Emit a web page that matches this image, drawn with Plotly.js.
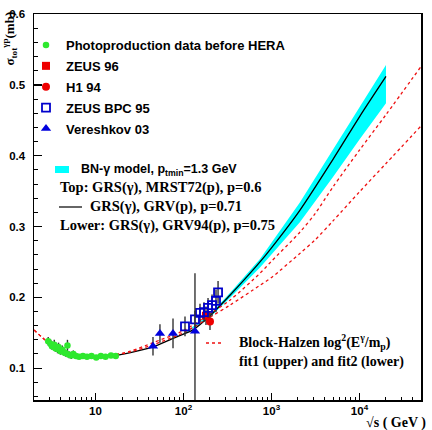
<!DOCTYPE html>
<html>
<head>
<meta charset="utf-8">
<script src="https://cdn.plot.ly/plotly-3.0.1.min.js"></script>
<style>html,body{margin:0;padding:0;background:#fff;}</style>
</head>
<body>
<div id="chart" style="width:432px;height:430px;"></div>
<script>
// Total photoproduction cross section sigma_tot(gamma p) in mb versus sqrt(s) in GeV

// Photoproduction data before HERA
const photoE     = [2.9, 3.1, 3.2, 3.4, 3.5, 3.7, 3.8, 4.0, 4.2, 4.4, 4.6, 4.8, 5.0, 5.3, 5.6, 6.0, 6.5, 7.2, 8.0, 9.0, 10.2, 11.5, 13, 15, 17];
const photoSigma = [0.138, 0.134, 0.131, 0.133, 0.128, 0.127, 0.130, 0.124, 0.126, 0.122, 0.121, 0.132, 0.119, 0.118, 0.120, 0.117, 0.116, 0.117, 0.116, 0.117, 0.115, 0.117, 0.116, 0.118, 0.117];
const photoErr   = [0.006, 0.006, 0.005, 0.007, 0.005, 0.006, 0.006, 0.005, 0.006, 0.005, 0.005, 0.008, 0.005, 0.005, 0.005, 0.004, 0.003, 0.003, 0.003, 0.003, 0.003, 0.003, 0.003, 0.003, 0.003];

// ZEUS 96 and H1 94
const zeus96E = [180], zeus96Sigma = [0.174], zeus96Err = [0.013];
const h194E   = [200], h194Sigma   = [0.166], h194Err   = [0.012];

// ZEUS BPC 95
const bpcE     = [104, 135, 154, 171, 190, 211, 234, 247];
const bpcSigma = [0.159, 0.169, 0.178, 0.179, 0.185, 0.189, 0.195, 0.207];
const bpcErr   = [0.014, 0.012, 0.013, 0.014, 0.014, 0.015, 0.016, 0.016];

// Vereshkov 03
const verE        = [45, 54, 76, 135];
const verSigma    = [0.131, 0.149, 0.149, 0.152];
const verErrUp    = [0.013, 0.013, 0.021, 0.082];
const verErrDown  = [0.013, 0.013, 0.021, 0.114];

// BN-gamma model: band (MRST72 top / GRV94 lower) and central GRV curve
const bandE     = [100, 200, 337, 740, 2100, 5000, 10000, 20000];
const bandTop   = [0.149, 0.176, 0.206, 0.254, 0.334, 0.409, 0.469, 0.528];
const bandLow   = [0.147, 0.172, 0.199, 0.242, 0.306, 0.370, 0.423, 0.474];
const grvE      = [5, 7, 10, 15, 25, 45, 70, 100, 128, 200, 337, 500, 740, 1000, 2100, 5000, 10000, 20000];
const grvSigma  = [0.120, 0.117, 0.116, 0.117, 0.122, 0.130, 0.140, 0.148, 0.154, 0.174, 0.203, 0.226, 0.250, 0.270, 0.323, 0.395, 0.455, 0.512];

// Block-Halzen log^2 fits
const bhE    = [2, 2.5, 3, 4, 5, 6, 8, 10, 15, 25, 45, 100, 200, 337, 740, 1000, 2100, 3120, 5000, 10000, 20000, 50000];
const bhFit1 = [0.154, 0.143, 0.135, 0.126, 0.121, 0.119, 0.117, 0.117, 0.118, 0.124, 0.136, 0.153, 0.177, 0.196, 0.234, 0.251, 0.292, 0.318, 0.356, 0.408, 0.458, 0.526];
const bhFit2 = [0.154, 0.143, 0.135, 0.126, 0.121, 0.119, 0.117, 0.117, 0.118, 0.123, 0.133, 0.150, 0.172, 0.189, 0.217, 0.228, 0.262, 0.281, 0.308, 0.349, 0.389, 0.442];

// Axis ticks
const xTickVals  = [10, 100, 1000, 10000];
const xTickText  = ['10', '10<sup>2</sup>', '10<sup>3</sup>', '10<sup>4</sup>'];
const yTickVals  = [0.1, 0.2, 0.3, 0.4, 0.5, 0.6];
const yTickText  = ['0.1', '0.2', '0.3', '0.4', '0.5', '0.6'];

// minor ticks on the log axis: 2..9 in every decade
const xMinorVals = [];
for (let d = 1; d <= 10000; d *= 10) for (let k = 2; k <= 9; k++) xMinorVals.push(k * d);

const SANS = 'Liberation Sans, Arial, sans-serif';
const SERIF = 'Liberation Serif, Times New Roman, serif';
const ERR = {color: '#333', thickness: 1.4, width: 0};

// pixel -> paper helpers for legend keys and labels
const M = {l: 34, r: 11, t: 14, b: 30};
const PW = 432 - M.l - M.r, PH = 430 - M.t - M.b;
const px = x => (x - M.l) / PW;
const py = y => 1 - (y - M.t) / PH;

const traces = [
  {x: bandE, y: bandLow, mode: 'lines', line: {width: 0, color: 'rgba(0,0,0,0)'}, showlegend: false, hoverinfo: 'skip'},
  {x: bandE, y: bandTop, mode: 'lines', fill: 'tonexty', fillcolor: '#00ffff',
   line: {width: 0, color: 'rgba(0,0,0,0)'}, showlegend: false, hoverinfo: 'skip'},
  {x: grvE, y: grvSigma, mode: 'lines', line: {color: '#000', width: 1.3, shape: 'spline', smoothing: 0.8}, showlegend: false},
  {x: bhE, y: bhFit1, mode: 'lines', line: {color: '#ee1111', width: 1.3, dash: 'dot', shape: 'spline', smoothing: 0.8}, showlegend: false},
  {x: bhE, y: bhFit2, mode: 'lines', line: {color: '#ee1111', width: 1.3, dash: 'dot', shape: 'spline', smoothing: 0.8}, showlegend: false},
  {x: photoE, y: photoSigma, mode: 'markers', name: 'Photoproduction data before HERA', legendgroup: 'a',
   marker: {symbol: 'circle', size: 6.5, color: '#2ee82e'},
   error_y: Object.assign({type: 'data', array: photoErr}, ERR)},
  {x: zeus96E, y: zeus96Sigma, mode: 'markers', name: 'ZEUS 96', legendgroup: 'b',
   marker: {symbol: 'square', size: 8, color: '#ee0000'},
   error_y: Object.assign({type: 'data', array: zeus96Err}, ERR)},
  {x: h194E, y: h194Sigma, mode: 'markers', name: 'H1 94', legendgroup: 'c',
   marker: {symbol: 'circle', size: 8, color: '#ee0000'},
   error_y: Object.assign({type: 'data', array: h194Err}, ERR)},
  {x: bpcE, y: bpcSigma, mode: 'markers', name: 'ZEUS BPC 95', legendgroup: 'd',
   marker: {symbol: 'square-open', size: 8, color: '#0000cc', line: {width: 1.8, color: '#0000cc'}},
   error_y: Object.assign({type: 'data', array: bpcErr}, ERR)},
  {x: verE, y: verSigma, mode: 'markers', name: 'Vereshkov 03', legendgroup: 'e',
   marker: {symbol: 'triangle-up', size: 9, color: '#0000dd'},
   error_y: Object.assign({type: 'data', symmetric: false, array: verErrUp, arrayminus: verErrDown}, ERR)}
];

const layout = {
  width: 432, height: 430,
  margin: M,
  paper_bgcolor: '#fff', plot_bgcolor: '#fff',
  showlegend: true,
  legend: {
    x: px(26), y: py(30), xanchor: 'left', yanchor: 'top',
    bgcolor: 'rgba(0,0,0,0)', borderwidth: 0, tracegroupgap: 1,
    font: {family: SANS, size: 13, color: '#000', weight: 'bold'}
  },
  xaxis: {
    type: 'log', range: [Math.log10(2), Math.log10(50000)],
    showline: true, linecolor: '#000', linewidth: 1.5, mirror: true,
    showgrid: false, zeroline: false,
    tickmode: 'array', tickvals: xTickVals, ticktext: xTickText,
    ticks: 'inside', ticklen: 7, tickwidth: 1.2, tickcolor: '#000',
    ticklabeloverflow: 'allow',
    tickfont: {family: SANS, size: 11.5, color: '#000', weight: 'bold'},
    minor: {tickmode: 'array', tickvals: xMinorVals, ticks: 'inside', ticklen: 3.5, tickwidth: 1, tickcolor: '#000', showgrid: false}
  },
  yaxis: {
    range: [0.055, 0.6002],
    showline: true, linecolor: '#000', linewidth: 1.5, mirror: true,
    showgrid: false, zeroline: false,
    tickmode: 'array', tickvals: yTickVals, ticktext: yTickText,
    ticks: 'inside', ticklen: 8, tickwidth: 1.2, tickcolor: '#000',
    ticklabelstandoff: 5, ticklabeloverflow: 'allow',
    tickfont: {family: SANS, size: 11.5, color: '#000', weight: 'bold'},
    minor: {dtick: 0.02, tick0: 0, ticks: 'inside', ticklen: 4, tickwidth: 1, tickcolor: '#000', showgrid: false}
  },
  shapes: [
    // BN-gamma band key
    {type: 'rect', xref: 'paper', yref: 'paper', x0: px(55), x1: px(69), y0: py(173), y1: py(166),
     fillcolor: '#00ffff', line: {width: 0}},
    // GRV central curve key
    {type: 'line', xref: 'paper', yref: 'paper', x0: px(59), x1: px(82), y0: py(207), y1: py(207),
     line: {color: '#000', width: 1.2}},
    // Block-Halzen key
    {type: 'line', xref: 'paper', yref: 'paper', x0: px(206), x1: px(223), y0: py(343), y1: py(343),
     line: {color: '#ee1111', width: 1.3, dash: 'dot'}}
  ],
  annotations: [
    {xref: 'paper', yref: 'paper', x: px(9.5), y: py(39), textangle: -90, showarrow: false,
     xanchor: 'center', yanchor: 'middle',
     text: 'σ<sub>tot</sub><sup>γp</sup>(mb)', font: {family: SERIF, size: 13, color: '#000', weight: 'bold'}},
    {xref: 'paper', yref: 'paper', x: px(364), y: py(423), showarrow: false, xanchor: 'left', yanchor: 'middle',
     text: '√s ( GeV )', font: {family: SERIF, size: 14, color: '#000', weight: 'bold'}},
    {xref: 'paper', yref: 'paper', x: px(79), y: py(170), showarrow: false, xanchor: 'left', yanchor: 'middle',
     text: 'BN-γ model, p<sub>tmin</sub>=1.3 GeV', font: {family: SANS, size: 12.5, color: '#000', weight: 'bold'}},
    {xref: 'paper', yref: 'paper', x: px(58), y: py(187), showarrow: false, xanchor: 'left', yanchor: 'middle',
     text: 'Top: GRS(γ), MRST72(p), p=0.6', font: {family: SERIF, size: 14.5, color: '#000', weight: 'bold'}},
    {xref: 'paper', yref: 'paper', x: px(88), y: py(206), showarrow: false, xanchor: 'left', yanchor: 'middle',
     text: 'GRS(γ), GRV(p), p=0.71', font: {family: SERIF, size: 14.5, color: '#000', weight: 'bold'}},
    {xref: 'paper', yref: 'paper', x: px(58), y: py(226), showarrow: false, xanchor: 'left', yanchor: 'middle',
     text: 'Lower: GRS(γ), GRV94(p), p=0.75', font: {family: SERIF, size: 14.5, color: '#000', weight: 'bold'}},
    {xref: 'paper', yref: 'paper', x: px(237), y: py(342), showarrow: false, xanchor: 'left', yanchor: 'middle',
     text: 'Block-Halzen log<sup>2</sup>(E<sup>γ</sup>/m<sub>p</sub>)', font: {family: SERIF, size: 14, color: '#000', weight: 'bold'}},
    {xref: 'paper', yref: 'paper', x: px(237), y: py(362), showarrow: false, xanchor: 'left', yanchor: 'middle',
     text: 'fit1 (upper) and fit2 (lower)', font: {family: SERIF, size: 14, color: '#000', weight: 'bold'}}
  ]
};

Plotly.newPlot('chart', traces, layout, {staticPlot: true, displayModeBar: false});
</script>
</body>
</html>
